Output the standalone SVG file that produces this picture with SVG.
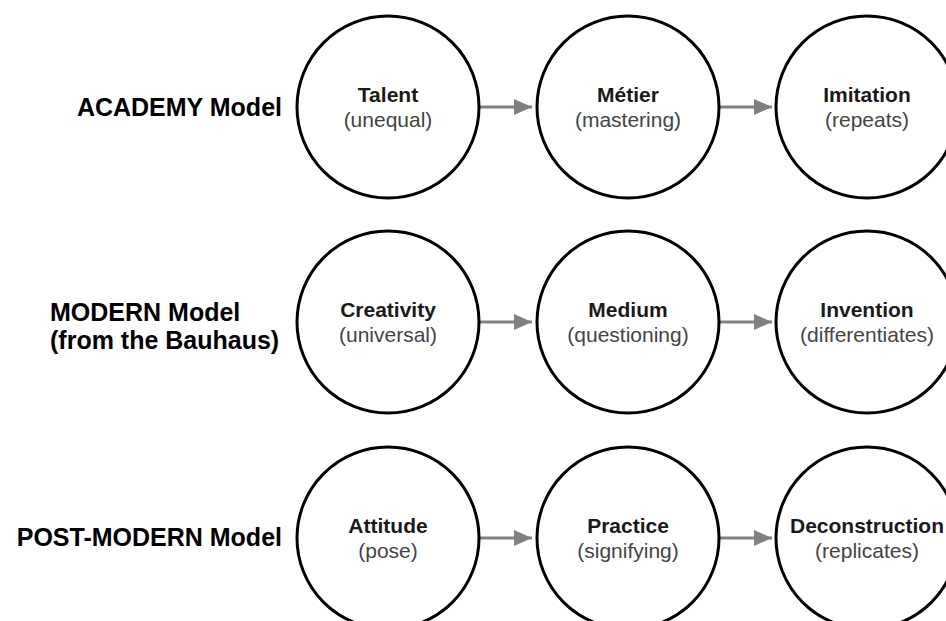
<svg xmlns="http://www.w3.org/2000/svg" width="946" height="621" viewBox="0 0 946 621">
<defs>
<style>
.bg{fill:#ffffff}
.node circle{fill:#ffffff;stroke:#000000;stroke-width:3}
.t{font-family:"Liberation Sans",Arial,Helvetica,sans-serif;font-size:21px;font-weight:bold;fill:#1a1a1a;text-anchor:middle}
.s{font-family:"Liberation Sans",Arial,Helvetica,sans-serif;font-size:21px;fill:#444444;text-anchor:middle}
.lab{font-family:"Liberation Sans",Arial,Helvetica,sans-serif;font-size:25px;font-weight:bold;fill:#000000}
.edge{stroke:#808080;stroke-width:3;fill:none}
</style>
<marker id="ah" markerWidth="6" markerHeight="6" refX="6" refY="3" orient="auto" markerUnits="strokeWidth">
<path d="M0,0.3 L6,3 L0,5.7 Z" fill="#808080"/>
</marker>
</defs>
<rect class="bg" x="0" y="0" width="946" height="621"/>

<g id="labels">
<text class="lab" x="282" y="116" text-anchor="end">ACADEMY Model</text>
<text class="lab" x="50" y="321">MODERN Model</text>
<text class="lab" x="50" y="349">(from the Bauhaus)</text>
<text class="lab" x="282" y="546" text-anchor="end">POST-MODERN Model</text>
</g>

<g id="connectors">
<line class="edge" x1="480" y1="107" x2="532" y2="107" marker-end="url(#ah)"/>
<line class="edge" x1="720" y1="107" x2="772" y2="107" marker-end="url(#ah)"/>
<line class="edge" x1="480" y1="322" x2="532" y2="322" marker-end="url(#ah)"/>
<line class="edge" x1="720" y1="322" x2="772" y2="322" marker-end="url(#ah)"/>
<line class="edge" x1="480" y1="538" x2="532" y2="538" marker-end="url(#ah)"/>
<line class="edge" x1="720" y1="538" x2="772" y2="538" marker-end="url(#ah)"/>
</g>

<g id="talent" class="node"><circle cx="388" cy="107" r="91"/><text class="t" x="388" y="102">Talent</text><text class="s" x="388" y="127">(unequal)</text></g>
<g id="metier" class="node"><circle cx="628" cy="107" r="91"/><text class="t" x="628" y="102">Métier</text><text class="s" x="628" y="127">(mastering)</text></g>
<g id="imitation" class="node"><circle cx="867" cy="107" r="91"/><text class="t" x="867" y="102">Imitation</text><text class="s" x="867" y="127">(repeats)</text></g>

<g id="creativity" class="node"><circle cx="388" cy="322" r="91"/><text class="t" x="388" y="317">Creativity</text><text class="s" x="388" y="342">(universal)</text></g>
<g id="medium" class="node"><circle cx="628" cy="322" r="91"/><text class="t" x="628" y="317">Medium</text><text class="s" x="628" y="342">(questioning)</text></g>
<g id="invention" class="node"><circle cx="867" cy="322" r="91"/><text class="t" x="867" y="317">Invention</text><text class="s" x="867" y="342">(differentiates)</text></g>

<g id="attitude" class="node"><circle cx="388" cy="538" r="91"/><text class="t" x="388" y="533">Attitude</text><text class="s" x="388" y="558">(pose)</text></g>
<g id="practice" class="node"><circle cx="628" cy="538" r="91"/><text class="t" x="628" y="533">Practice</text><text class="s" x="628" y="558">(signifying)</text></g>
<g id="deconstruction" class="node"><circle cx="867" cy="538" r="91"/><text class="t" x="867" y="533">Deconstruction</text><text class="s" x="867" y="558">(replicates)</text></g>
</svg>
